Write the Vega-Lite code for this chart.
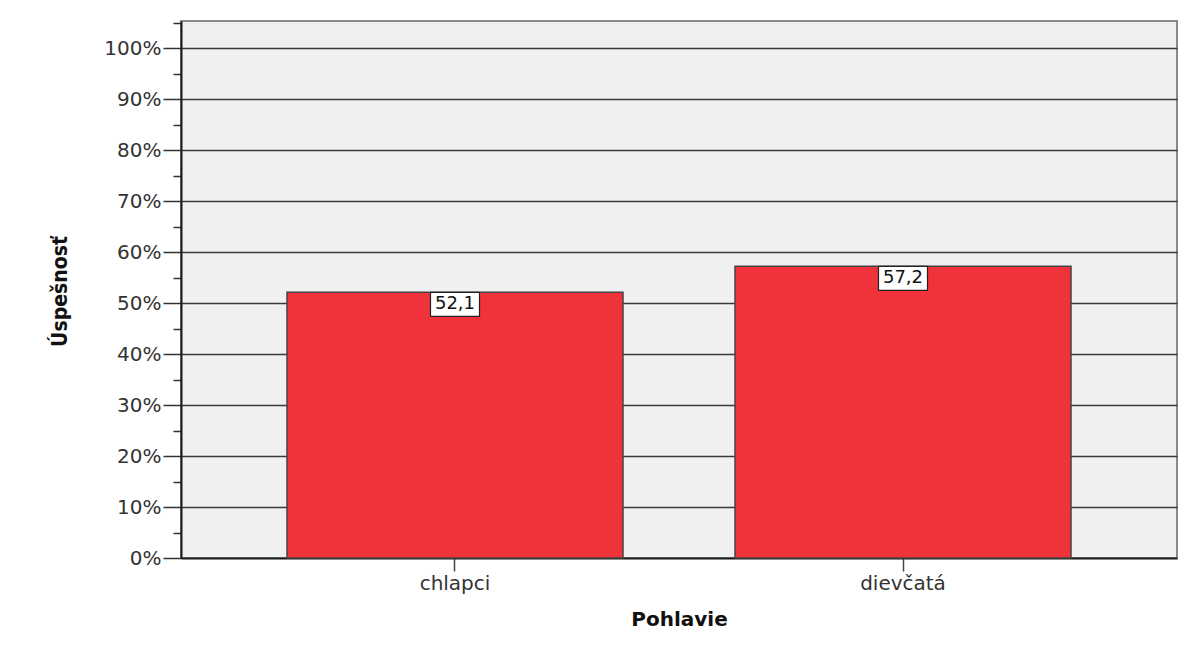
{
  "$schema": "https://vega.github.io/schema/vega-lite/v6.json",
  "width": 996,
  "height": 537,
  "autosize": {"type": "none"},
  "padding": {"left": 181, "top": 21, "right": 13, "bottom": 87},
  "background": "white",
  "config": {
    "locale": {"number": {"decimal": ",", "thousands": " ", "grouping": [3], "currency": ["", " €"]}},
    "view": {"fill": "#f0f0f0", "stroke": "#8a8a8a", "strokeWidth": 2},
    "axis": {"labelFont": "DejaVu Sans", "titleFont": "DejaVu Sans"}
  },
  "data": {
    "values": [
      {"Pohlavie": "chlapci", "Uspesnost": 52.1},
      {"Pohlavie": "dievčatá", "Uspesnost": 57.2}
    ]
  },
  "encoding": {
    "x": {
      "field": "Pohlavie",
      "type": "nominal",
      "sort": null,
      "scale": {"paddingInner": 0.25, "paddingOuter": 0.2366},
      "axis": {
        "title": "Pohlavie",
        "labelAngle": 0,
        "labelFontSize": 20,
        "labelColor": "#333333",
        "labelPadding": 2,
        "tickSize": 13,
        "tickColor": "#444444",
        "tickWidth": 1.5,
        "domainColor": "#1a1a1a",
        "domainWidth": 2,
        "titleFontSize": 20,
        "titleFontWeight": "bold",
        "titleColor": "#111111",
        "titleY": 61,
        "titleBaseline": "middle"
      }
    },
    "y": {
      "field": "Uspesnost",
      "type": "quantitative",
      "scale": {"domain": [0, 105.3], "nice": false, "zero": true},
      "axis": {
        "title": "Úspešnosť",
        "values": [0, 5, 10, 15, 20, 25, 30, 35, 40, 45, 50, 55, 60, 65, 70, 75, 80, 85, 90, 95, 100, 105],
        "labelExpr": "datum.value % 10 === 0 ? datum.value + '%' : ''",
        "labelFontSize": 20,
        "labelColor": "#333333",
        "labelPadding": 2,
        "tickSize": {"condition": {"test": "datum.value % 10 === 0", "value": 18}, "value": 8},
        "tickColor": "#333333",
        "tickWidth": 1.5,
        "domainColor": "#1a1a1a",
        "domainWidth": 2,
        "grid": true,
        "gridColor": "#3a3a3a",
        "gridWidth": 1.5,
        "gridOpacity": {"condition": {"test": "datum.value % 10 === 0 && datum.value > 0", "value": 1}, "value": 0},
        "titleFont": "DejaVu Sans Condensed",
        "titleFontSize": 21,
        "titleFontWeight": "bold",
        "titleColor": "#111111",
        "titleX": -121,
        "titleY": 270,
        "titleBaseline": "middle",
        "titleAngle": -90
      }
    }
  },
  "layer": [
    {
      "mark": {"type": "bar", "fill": "#f0323a", "stroke": "#444444", "strokeWidth": 1.5}
    },
    {
      "mark": {
        "type": "point",
        "shape": "M-1,0L1,0L1,0.98L-1,0.98Z",
        "size": 2401,
        "filled": true,
        "fill": "white",
        "stroke": "#222222",
        "strokeWidth": 1.2,
        "opacity": 1
      }
    },
    {
      "mark": {
        "type": "text",
        "font": "DejaVu Sans",
        "fontSize": 18,
        "color": "#111111",
        "baseline": "middle",
        "align": "center",
        "dy": 12
      },
      "encoding": {
        "text": {"field": "Uspesnost", "type": "quantitative", "format": ".1f"}
      }
    }
  ]
}
